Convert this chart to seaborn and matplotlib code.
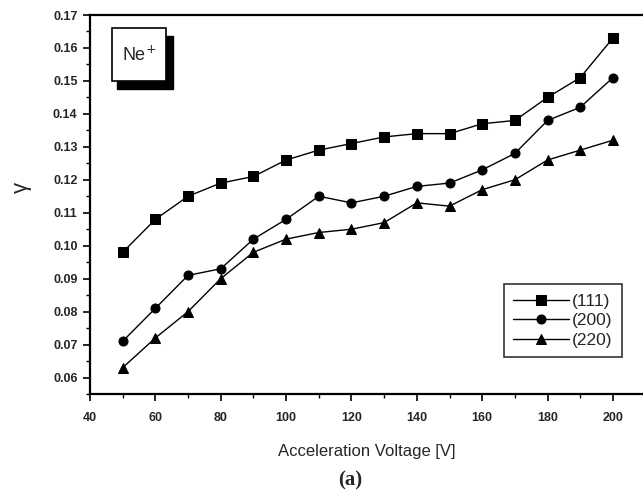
import numpy as np
import pandas as pd
import matplotlib
matplotlib.use("Agg")
import matplotlib.pyplot as plt
from matplotlib.patches import Rectangle
from matplotlib.ticker import MultipleLocator
import seaborn as sns

voltage = [50, 60, 70, 80, 90, 100, 110, 120, 130, 140, 150, 160, 170, 180, 190, 200]
gamma_111 = [0.098, 0.108, 0.115, 0.119, 0.121, 0.126, 0.129, 0.131, 0.133, 0.134, 0.134, 0.137, 0.138, 0.145, 0.151, 0.163]
gamma_200 = [0.071, 0.081, 0.091, 0.093, 0.102, 0.108, 0.115, 0.113, 0.115, 0.118, 0.119, 0.123, 0.128, 0.138, 0.142, 0.151]
gamma_220 = [0.063, 0.072, 0.080, 0.090, 0.098, 0.102, 0.104, 0.105, 0.107, 0.113, 0.112, 0.117, 0.120, 0.126, 0.129, 0.132]
series_names = ["(111)", "(200)", "(220)"]
markers = ["s", "o", "^"]

df = pd.concat([
    pd.DataFrame({"V": voltage, "gamma": g, "plane": n})
    for g, n in zip([gamma_111, gamma_200, gamma_220], series_names)
])

sns.set_theme(style="white")
plt.rcParams["font.family"] = ["Liberation Sans", "DejaVu Sans"]

fig = plt.figure(figsize=(6.43, 4.98), dpi=100)
ax = fig.add_axes([90/643, 104/498, 553/643, 379/498])

sns.lineplot(data=df, x="V", y="gamma", hue="plane", style="plane",
             palette=["black"]*3, markers=markers, dashes=False,
             markersize=6.5, linewidth=1.0, markeredgecolor="black",
             ax=ax, legend=True)

ax.set_xlim(40, 209.2)
ax.set_ylim(0.055, 0.17)
ax.xaxis.set_major_locator(MultipleLocator(20))
ax.xaxis.set_minor_locator(MultipleLocator(10))
ax.yaxis.set_major_locator(MultipleLocator(0.01))
ax.yaxis.set_minor_locator(MultipleLocator(0.005))
ax.yaxis.set_major_formatter(matplotlib.ticker.FormatStrFormatter("%.2f"))
ax.tick_params(which="major", direction="out", length=5, width=1.2, color="black",
               left=True, bottom=True, labelsize=9, pad=4)
ax.tick_params(axis="x", which="major", pad=8)
ax.tick_params(which="minor", direction="out", length=3, width=1.0, color="black",
               left=True, bottom=True)
for lab in ax.get_xticklabels() + ax.get_yticklabels():
    lab.set_fontweight("bold")
for s in ["left", "bottom", "top"]:
    ax.spines[s].set_color("black")
    ax.spines[s].set_linewidth(1.6)
ax.spines["right"].set_visible(False)

ax.set_xlabel("Acceleration Voltage [V]", fontsize=12, labelpad=14)
ax.set_ylabel("γ", fontsize=16)
ax.yaxis.set_label_coords(-0.105, (394 - 187) / 379)

leg = ax.legend(loc="lower right", bbox_to_anchor=(0.978, 0.074), frameon=True,
                fancybox=False, edgecolor="black", fontsize=12.5,
                handlelength=3.2, handletextpad=0.2, borderpad=0.55, labelspacing=0.25)
leg.get_frame().set_linewidth(1.2)

# Ne+ label box with shadow
ax.add_patch(Rectangle((27/553, (394-89)/379), 56/553, 53/379, transform=ax.transAxes,
                       facecolor="black", edgecolor="black", zorder=4))
ax.add_patch(Rectangle((22/553, (394-81)/379), 54/553, 53/379, transform=ax.transAxes,
                       facecolor="white", edgecolor="black", linewidth=1.2, zorder=5))
ax.text(49/553, (394-55)/379, "Ne$^{+}$", transform=ax.transAxes, fontsize=13,
        ha="center", va="center", zorder=6)

fig.text(350/643, 1 - 480/498, "(a)", fontsize=15, fontweight="bold",
         family="Liberation Serif", ha="center", va="center")

fig.savefig("out.png", dpi=100)
